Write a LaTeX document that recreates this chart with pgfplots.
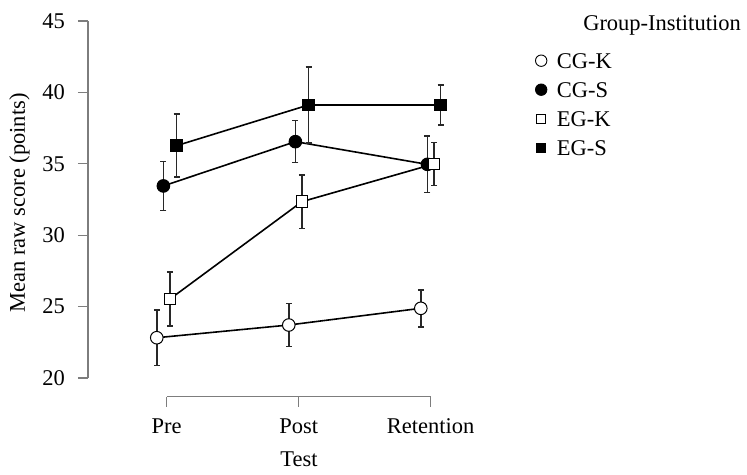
\documentclass[border=0pt]{standalone}
\usepackage{fontspec}
\setmainfont{Liberation Serif}
\usepackage{pgfplots}
\pgfplotsset{compat=1.18}
\definecolor{axgray}{RGB}{125,125,125}
\definecolor{errc}{RGB}{40,40,40}
\begin{document}
\fontsize{22.5}{27}\selectfont
\begin{tikzpicture}[every node/.append style={font=\fontsize{22.5}{27}\selectfont}]
\useasboundingbox (-88pt,-77.3pt) rectangle (659pt,396.7pt);
\begin{axis}[
  at={(0,0)}, anchor=south west,
  scale only axis, width=355.9pt, height=375.7pt,
  xmin=-0.596, xmax=2.1, ymin=18.69, ymax=45,
  axis x line*=bottom, axis y line*=left,
  axis line style={draw=none},
  xtick={0,1,2}, xticklabels={Pre,Post,Retention},
  ytick={20,25,30,35,40,45}, yticklabels={20,25,30,35,40,45},
  tick align=outside, major tick length=10pt,
  tick style={color=axgray, line width=1.3pt},
  yticklabel style={anchor=east, inner sep=0pt, xshift=-13pt},
  xticklabel style={anchor=north, inner sep=0pt, text height=15pt, text depth=5pt, yshift=-11.5pt},
  xlabel={Test}, ylabel={Mean raw score (points)},
  x label style={at={(axis description cs:0.593,0)}, anchor=base, yshift=-70pt},
  y label style={at={(axis description cs:-0.222,0.5156)}, anchor=north, inner sep=0pt},
  clip=false,
  legend cell align=left,
  legend image code/.code={\draw[#1] plot coordinates {(0pt,2pt)};},
  legend style={at={(axis description cs:1.2568,0.9175)}, anchor=north west,
    draw=none, fill=none, inner sep=0pt, row sep=8pt, column sep=10pt,
    nodes={inner sep=0pt, text height=16pt, text depth=5pt}},
]
\addlegendimage{only marks, mark=*, mark size=5.7pt, mark options={fill=white, draw=black, line width=0.9pt}}
\addlegendentry{CG-K}
\addlegendimage{only marks, mark=*, mark size=5.7pt, mark options={fill=black, draw=black, line width=0.9pt}}
\addlegendentry{CG-S}
\addlegendimage{only marks, mark=square*, mark size=4.7pt, mark options={fill=white, draw=black, line width=0.9pt}}
\addlegendentry{EG-K}
\addlegendimage{only marks, mark=square*, mark size=4.7pt, mark options={fill=black, draw=black, line width=0.9pt}}
\addlegendentry{EG-S}

\draw[axgray, line width=1.3pt] (axis cs:-0.596,20) -- (axis cs:-0.596,45);
\draw[axgray, line width=1.3pt] (axis cs:0,18.69) -- (axis cs:2,18.69);

\pgfplotsset{myerr/.style={error bars/.cd, y dir=both, y explicit,
   error bar style={line width=1.6pt, color=errc},
   error mark options={rotate=90, line width=1.6pt, mark size=3pt, color=errc}}}

\addplot[forget plot, black, line width=1.6pt, mark=*, mark size=6.3pt,
  mark options={fill=white, draw=black, line width=1pt}, myerr]
  coordinates {(-0.075,22.82) +- (0,1.95) (0.925,23.71) +- (0,1.5) (1.925,24.88) +- (0,1.3)};
\addplot[forget plot, black, line width=1.6pt, mark=*, mark size=6.3pt,
  mark options={fill=black, draw=black, line width=1pt}, myerr]
  coordinates {(-0.025,33.45) +- (0,1.72) (0.975,36.55) +- (0,1.47) (1.975,34.96) +- (0,1.98)};
\addplot[forget plot, black, line width=1.6pt, mark=square*, mark size=5.7pt,
  mark options={fill=white, draw=black, line width=1pt}, myerr]
  coordinates {(0.025,25.53) +- (0,1.88) (1.025,32.35) +- (0,1.87) (2.025,34.99) +- (0,1.5)};
\addplot[forget plot, black, line width=1.6pt, mark=square*, mark size=5.7pt,
  mark options={fill=black, draw=black, line width=1pt}, myerr]
  coordinates {(0.075,36.27) +- (0,2.2) (1.075,39.12) +- (0,2.67) (2.075,39.12) +- (0,1.4)};

\node[anchor=base west, inner sep=0pt] at (axis description cs:1.391,0.976) {Group-Institution};
\end{axis}
\end{tikzpicture}
\end{document}
